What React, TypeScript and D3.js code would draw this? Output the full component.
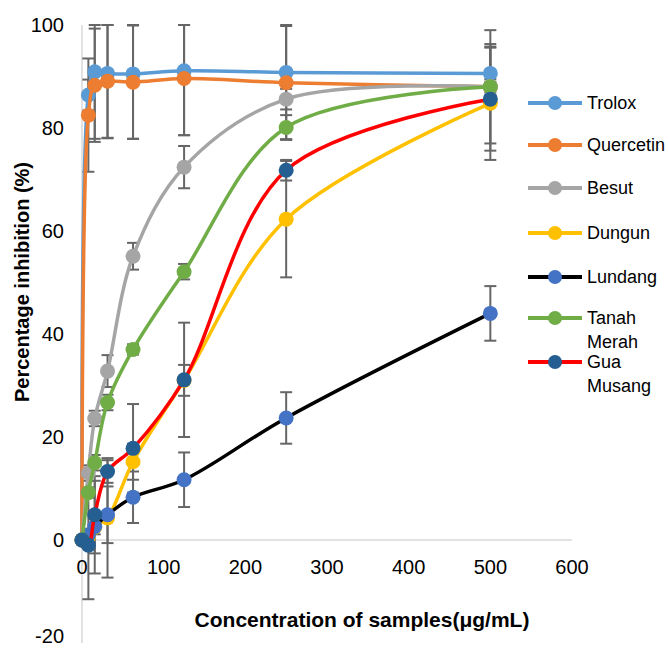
import React from "react";
import * as d3 from "d3";

// concentration (µg/mL)
const conc = [0, 7.8, 15.6, 31.25, 62.5, 125, 250, 500];

const trolox = [0, 86.4, 90.9, 90.6, 90.5, 91.1, 90.8, 90.6];
const troloxSd = [0, 3, 13, 12.6, 12.6, 12.5, 13, 5.7];
const quercetin = [0, 82.5, 88.3, 89.1, 88.9, 89.6, 88.8, 88.0];
const quercetinSd = [0, 11, 11, 11, 11, 11, 11, 11];
const besut = [0, 13, 23.6, 32.8, 55.1, 72.4, 85.6, 88.0];
const besutSd = [0, 1.5, 1.5, 3.1, 2.6, 4.1, 2, 1.5];
const dungun = [0, 0.5, 2.5, 4.3, 15.2, 31.0, 62.3, 84.8];
const dungunSd = [0, 1, 9, 11.6, 3.5, 3, 11.3, 11];
const lundang = [0, 1.0, 2.6, 4.9, 8.3, 11.7, 23.7, 44.0];
const lundangSd = [0, 1, 1.5, 5.5, 5, 5.3, 5, 5.3];
const tanahMerah = [0, 9.2, 15, 26.7, 37.0, 52.1, 80.1, 88.0];
const tanahMerahSd = [0, 1, 1.5, 1.5, 1, 1.5, 2.4, 1];
const guaMusang = [0, -1, 4.9, 13.3, 17.8, 31.1, 71.8, 85.6];
const guaMusangSd = [0, 10.5, 7.5, 2.2, 8.6, 11.1, 2, 10];

const xTicks = [0, 100, 200, 300, 400, 500, 600];
const yTicks = [-20, 0, 20, 40, 60, 80, 100];

const series = [
  { name: ["Trolox"], vals: trolox, sd: troloxSd, line: "#5B9BD5", marker: "#5B9BD5" },
  { name: ["Quercetin"], vals: quercetin, sd: quercetinSd, line: "#ED7D31", marker: "#ED7D31" },
  { name: ["Besut"], vals: besut, sd: besutSd, line: "#A5A5A5", marker: "#A5A5A5" },
  { name: ["Dungun"], vals: dungun, sd: dungunSd, line: "#FFC000", marker: "#FFC000" },
  { name: ["Lundang"], vals: lundang, sd: lundangSd, line: "#000000", marker: "#4472C4" },
  { name: ["Tanah", "Merah"], vals: tanahMerah, sd: tanahMerahSd, line: "#70AD47", marker: "#70AD47" },
  { name: ["Gua", "Musang"], vals: guaMusang, sd: guaMusangSd, line: "#FF0000", marker: "#255E91" },
];

export default function App() {
  const W = 669;
  const H = 650;
  const x = d3.scaleLinear().domain([0, 600]).range([82, 572]);
  const y = d3.scaleLinear().domain([-20, 100]).range([643, 25]);
  const line = d3
    .line<number>()
    .x((_, i) => x(conc[i]))
    .y((v) => y(v))
    .curve(d3.curveCatmullRom.alpha(0.5));
  const font = "'Liberation Sans', Arial, sans-serif";
  const clampY = (v: number) => y(Math.max(-20, Math.min(100, v)));
  const legendY = [103, 145, 188, 233, 277, 318, 362];

  return (
    <svg width={W} height={H} style={{ position: "absolute", left: 0, top: 0, background: "#fff" }}>
      {/* axes */}
      <line x1={x(0)} x2={x(0)} y1={y(100)} y2={y(-20)} stroke="#D9D9D9" strokeWidth={1.5} />
      <line x1={x(0)} x2={x(600)} y1={y(0)} y2={y(0)} stroke="#D9D9D9" strokeWidth={1.5} />
      {yTicks.map((t) => (
        <text key={t} x={64} y={Math.min(y(t), 636)} dy="0.35em" textAnchor="end" fontSize={20} fontFamily={font} fill="#000">
          {t}
        </text>
      ))}
      {xTicks.map((t) => (
        <text key={t} x={x(t)} y={574} textAnchor="middle" fontSize={20} fontFamily={font} fill="#000">
          {t}
        </text>
      ))}
      <text x={362} y={627} textAnchor="middle" fontSize={21} fontWeight="bold" fontFamily={font}>
        Concentration of samples(μg/mL)
      </text>
      <text
        transform={`translate(29,${282}) rotate(-90)`}
        textAnchor="middle"
        fontSize={20}
        fontWeight="bold"
        fontFamily={font}
      >
        Percentage inhibition (%)
      </text>

      {/* error bars */}
      {series.map((s, si) =>
        s.vals.map((v, i) => {
          if (!s.sd[i]) return null;
          const cx = x(conc[i]);
          const y1 = clampY(v + s.sd[i]);
          const y2 = clampY(v - s.sd[i]);
          return (
            <g key={`e${si}-${i}`} stroke="#666" strokeWidth={2}>
              <line x1={cx} x2={cx} y1={y1} y2={y2} />
              <line x1={cx - 6} x2={cx + 6} y1={y1} y2={y1} />
              <line x1={cx - 6} x2={cx + 6} y1={y2} y2={y2} />
            </g>
          );
        })
      )}

      {/* lines and markers */}
      {series.map((s, si) => (
        <g key={`s${si}`}>
          <path d={line(s.vals) || ""} fill="none" stroke={s.line} strokeWidth={3.5} />
          {s.vals.map((v, i) => (
            <circle key={i} cx={x(conc[i])} cy={y(v)} r={7.5} fill={s.marker} />
          ))}
        </g>
      ))}

      {/* legend */}
      {series.map((s, si) => (
        <g key={`l${si}`}>
          <line x1={528} x2={582} y1={legendY[si]} y2={legendY[si]} stroke={s.line} strokeWidth={4} />
          <circle cx={555} cy={legendY[si]} r={7} fill={s.marker} />
          {s.name.map((n, k) => (
            <text key={k} x={587} y={legendY[si] + k * 23.5} dy="0.35em" fontSize={18} fontFamily={font}>
              {n}
            </text>
          ))}
        </g>
      ))}
    </svg>
  );
}
